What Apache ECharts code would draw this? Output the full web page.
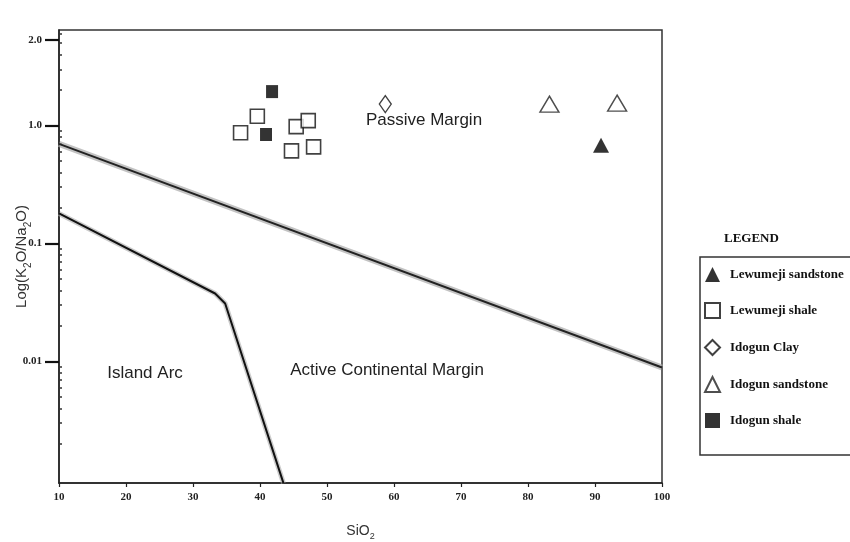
<!DOCTYPE html>
<html>
<head>
<meta charset="utf-8">
<script src="https://cdn.jsdelivr.net/npm/echarts@6/dist/echarts.min.js"></script>
<style>html,body{margin:0;padding:0;background:#fff}#c{width:850px;height:542px}</style>
</head>
<body>
<div id="c"></div>
<script>
// ---- data (SiO2 wt%, K2O/Na2O ratio) ----
const lewumejiSandstoneSiO2 = [90.9];
const lewumejiSandstoneRatio = [0.68];
const lewumejiShaleSiO2 = [37.1, 39.6, 45.4, 47.2, 44.7, 48.0];
const lewumejiShaleRatio = [0.87, 1.20, 0.98, 1.10, 0.61, 0.66];
const idogunClaySiO2 = [58.7];
const idogunClayRatio = [1.52];
const idogunSandstoneSiO2 = [83.2, 93.3];
const idogunSandstoneRatio = [1.52, 1.55];
const idogunShaleSiO2 = [41.8, 40.9];
const idogunShaleRatio = [1.94, 0.84];

// discrimination boundaries
const pmAcmSiO2 = [10, 100];
const pmAcmRatio = [0.70, 0.0089];
const arcAcmSiO2 = [10, 33.3, 34.8, 43.5];
const arcAcmRatio = [0.18, 0.0377, 0.031, 0.00093];

// axis ticks
const xTicks = [10, 20, 30, 40, 50, 60, 70, 80, 90, 100];
const yTickLabels = ['0.01', '0.1', '1.0', '2.0'];
const yTickLogs = [-2, -1, 0, 0.725];

const seriesNames = ['Lewumeji sandstone', 'Lewumeji shale', 'Idogun Clay', 'Idogun sandstone', 'Idogun shale'];

function pts(xs, rs) { return xs.map((x, i) => [x, Math.log10(rs[i])]); }

const yMin = -3.03, yMax = 0.81;
// minor log ticks
const minorTicks = [];
for (let d = -4; d <= 0; d++) {
  for (let k = 2; k <= 9; k++) {
    const v = d + Math.log10(k);
    if (v > yMin && v < yMax) minorTicks.push(v);
  }
}

const serif = 'Liberation Serif';
const sans = 'Liberation Sans';

const chart = echarts.init(document.getElementById('c'), null, {renderer: 'canvas'});

const openStyle = {color: '#fff', borderColor: '#111', borderWidth: 1.6};
const fillStyle = {color: '#000', borderColor: '#000', borderWidth: 0};

chart.setOption({
  animation: false,
  backgroundColor: '#fff',
  grid: {left: 59, right: 188, top: 30, bottom: 59, containLabel: false, outerBoundsMode: 'none',
    show: true, borderColor: '#333', borderWidth: 1.5, backgroundColor: 'transparent'},
  xAxis: {
    type: 'value', min: 10, max: 100, interval: 10,
    name: '{n|SiO}{s|2}', nameLocation: 'middle', nameGap: 37, nameMoveOverlap: false,
    nameTextStyle: {rich: {n: {fontFamily: sans, fontSize: 14, color: '#333', lineHeight: 18, verticalAlign: 'bottom'}, s: {fontFamily: sans, fontSize: 9, color: '#333', lineHeight: 18, verticalAlign: 'bottom', padding: [0, 0, -3, 0]}}},
    axisLine: {show: true, onZero: false, lineStyle: {color: '#222', width: 1.5}},
    axisTick: {show: true, length: 4, lineStyle: {color: '#222', width: 1.2}},
    axisLabel: {fontFamily: serif, fontWeight: 'bold', fontSize: 11, color: '#222', margin: 9,
      formatter: v => xTicks.indexOf(v) >= 0 ? String(v) : ''},
    splitLine: {show: false}
  },
  yAxis: [{
    type: 'value', min: yMin, max: yMax,
    name: '{n|Log(K}{s|2}{n|O/Na}{s|2}{n|O)}', nameLocation: 'middle', nameGap: 30, nameMoveOverlap: false,
    nameTextStyle: {rich: {n: {fontFamily: sans, fontSize: 15, color: '#333', lineHeight: 20, verticalAlign: 'bottom'}, s: {fontFamily: sans, fontSize: 10, color: '#333', lineHeight: 20, verticalAlign: 'bottom', padding: [0, 0, -4, 0]}}},
    axisLine: {show: true, onZero: false, lineStyle: {color: '#222', width: 1.5}},
    axisTick: {show: true, length: 14, customValues: yTickLogs, lineStyle: {color: '#111', width: 2.2}},
    axisLabel: {fontFamily: serif, fontWeight: 'bold', fontSize: 11, color: '#222', margin: 17,
      customValues: yTickLogs,
      formatter: v => { const i = yTickLogs.findIndex(t => Math.abs(t - v) < 1e-6); return i >= 0 ? yTickLabels[i] : ''; }},
    splitLine: {show: false}
  }, {
    type: 'value', min: yMin, max: yMax, position: 'left',
    axisLine: {show: false, onZero: false},
    axisTick: {show: true, inside: true, length: 3, customValues: minorTicks, lineStyle: {color: '#333', width: 1.5}},
    axisLabel: {show: false},
    splitLine: {show: false}
  }],
  legend: {
    orient: 'vertical', left: 700, top: 257,
    data: seriesNames,
    padding: [10, 10, 27, 4],
    borderColor: '#333', borderWidth: 1.5,
    itemWidth: 15, itemHeight: 15, itemGap: 20,
    textStyle: {fontFamily: serif, fontWeight: 'bold', fontSize: 13, color: '#111', lineHeight: 15, padding: [0, 0, 0, 5]},
    selectedMode: false
  },
  graphic: [
    {type: 'text', left: 724, top: 232, style: {text: 'LEGEND', fontFamily: serif, fontWeight: 'bold', fontSize: 13, fill: '#111'}},
    {type: 'text', x: 424, y: 120, style: {text: 'Passive Margin', fontFamily: sans, fontSize: 17, fill: '#222', align: 'center', verticalAlign: 'middle'}},
    {type: 'text', x: 145, y: 373, style: {text: 'Island Arc', fontFamily: sans, fontSize: 17, fill: '#222', align: 'center', verticalAlign: 'middle'}},
    {type: 'text', x: 387, y: 370, style: {text: 'Active Continental Margin', fontFamily: sans, fontSize: 17, fill: '#222', align: 'center', verticalAlign: 'middle'}}
  ],
  series: [
    {type: 'line', name: 'b1h', data: pts(pmAcmSiO2, pmAcmRatio), symbol: 'none', silent: true, z: 1,
      lineStyle: {color: 'rgba(170,170,170,0.7)', width: 6}},
    {type: 'line', name: 'b1', data: pts(pmAcmSiO2, pmAcmRatio), symbol: 'none', silent: true, z: 2,
      lineStyle: {color: '#222', width: 2}},
    {type: 'line', name: 'b2h', data: pts(arcAcmSiO2, arcAcmRatio), symbol: 'none', silent: true, z: 1,
      lineStyle: {color: 'rgba(170,170,170,0.6)', width: 5}},
    {type: 'line', name: 'b2', data: pts(arcAcmSiO2, arcAcmRatio), symbol: 'none', silent: true, z: 2,
      lineStyle: {color: '#111', width: 2}},
    {type: 'scatter', name: seriesNames[0], data: pts(lewumejiSandstoneSiO2, lewumejiSandstoneRatio), symbol: 'triangle', symbolSize: [16, 15], itemStyle: fillStyle, z: 5},
    {type: 'scatter', name: seriesNames[1], data: pts(lewumejiShaleSiO2, lewumejiShaleRatio), symbol: 'rect', symbolSize: 14, itemStyle: openStyle, z: 5},
    {type: 'scatter', name: seriesNames[2], data: pts(idogunClaySiO2, idogunClayRatio), symbol: 'diamond', symbolSize: [12, 17], itemStyle: {color: '#fff', borderColor: '#111', borderWidth: 1.3}, z: 5},
    {type: 'scatter', name: seriesNames[3], data: pts(idogunSandstoneSiO2, idogunSandstoneRatio), symbol: 'triangle', symbolSize: [19, 16], itemStyle: {color: '#fff', borderColor: '#222', borderWidth: 1.4}, z: 5},
    {type: 'scatter', name: seriesNames[4], data: pts(idogunShaleSiO2, idogunShaleRatio), symbol: 'rect', symbolSize: [12, 13], itemStyle: fillStyle, z: 5}
  ]
});
</script>
</body>
</html>
